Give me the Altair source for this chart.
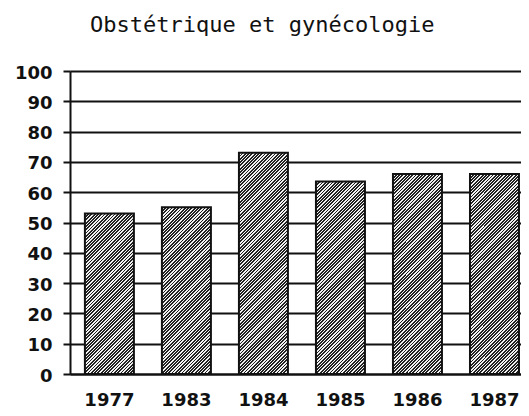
import altair as alt
import pandas as pd

years = ["1977", "1983", "1984", "1985", "1986", "1987"]
values = [53, 55, 73, 63.5, 66, 66]
title_text = "Obstétrique et gynécologie"

df = pd.DataFrame({"year": years, "value": values})

PLOT_W = 451
PLOT_H = 303
BAND_W = 49.0
PERIOD = 3.3  # hatch period along x (px)


def hatch(value):
    w = BAND_W
    h = value / 100.0 * PLOT_H
    k = w / (w * w + h * h)  # offset per unit of (x + y)
    T = PERIOD * k
    stops = []
    dark, light = "#222222", "#f2f2f2"
    o = 0.0
    while o < 1.0:
        a = min(o + T * 0.55, 1.0)
        b = min(o + T, 1.0)
        stops += [
            alt.GradientStop(color=dark, offset=round(o, 6)),
            alt.GradientStop(color=dark, offset=round(a, 6)),
            alt.GradientStop(color=light, offset=round(a, 6)),
            alt.GradientStop(color=light, offset=round(b, 6)),
        ]
        o = b
        if o > 0.5:
            break
    return alt.LinearGradient(gradient="linear", stops=stops,
                              x1=0, y1=0, x2=1, y2=round(h / w, 6))


x_enc = alt.X("year:N", sort=years, title=None,
              scale=alt.Scale(paddingInner=0.364, paddingOuter=0.11, align=0.88),
              axis=alt.Axis(labelAngle=0, ticks=False, domain=True,
                            domainColor="#111", domainWidth=2,
                            labelFont="DejaVu Sans", labelFontWeight="bold",
                            labelFontSize=18, labelColor="#111", labelPadding=17,
                            grid=False))
y_enc = alt.Y("value:Q", title=None,
              scale=alt.Scale(domain=[0, 100], nice=False),
              axis=alt.Axis(values=list(range(0, 101, 10)), tickSize=7,
                            tickColor="#111", tickWidth=2,
                            domainColor="#111", domainWidth=2,
                            grid=True, gridColor="#111", gridWidth=2,
                            labelFont="DejaVu Sans", labelFontWeight="bold",
                            labelFontSize=18, labelColor="#111", labelPadding=11,
                            labelOffset=2))

layers = []
for yr, v in zip(years, values):
    layers.append(
        alt.Chart(df)
        .transform_filter(alt.datum.year == yr)
        .mark_bar(fill=hatch(v), stroke="#111", strokeWidth=2)
        .encode(x=x_enc, y=y_enc)
    )

chart = (
    alt.layer(*layers)
    .properties(
        width=PLOT_W,
        height=PLOT_H,
        title=alt.TitleParams(title_text, font="DejaVu Sans Mono", fontSize=22,
                              fontWeight="normal", color="#111", anchor="start",
                              frame="group", dx=20, offset=10,
                              baseline="alphabetic"),
        autosize=alt.AutoSizeParams(type="none"),
        padding={"left": 62, "top": 63, "right": 0, "bottom": 34},
    )
    .configure_view(stroke=None)
    .configure(background="white")
)

chart.save("out.html", embed_options={"renderer": "svg", "actions": False})
